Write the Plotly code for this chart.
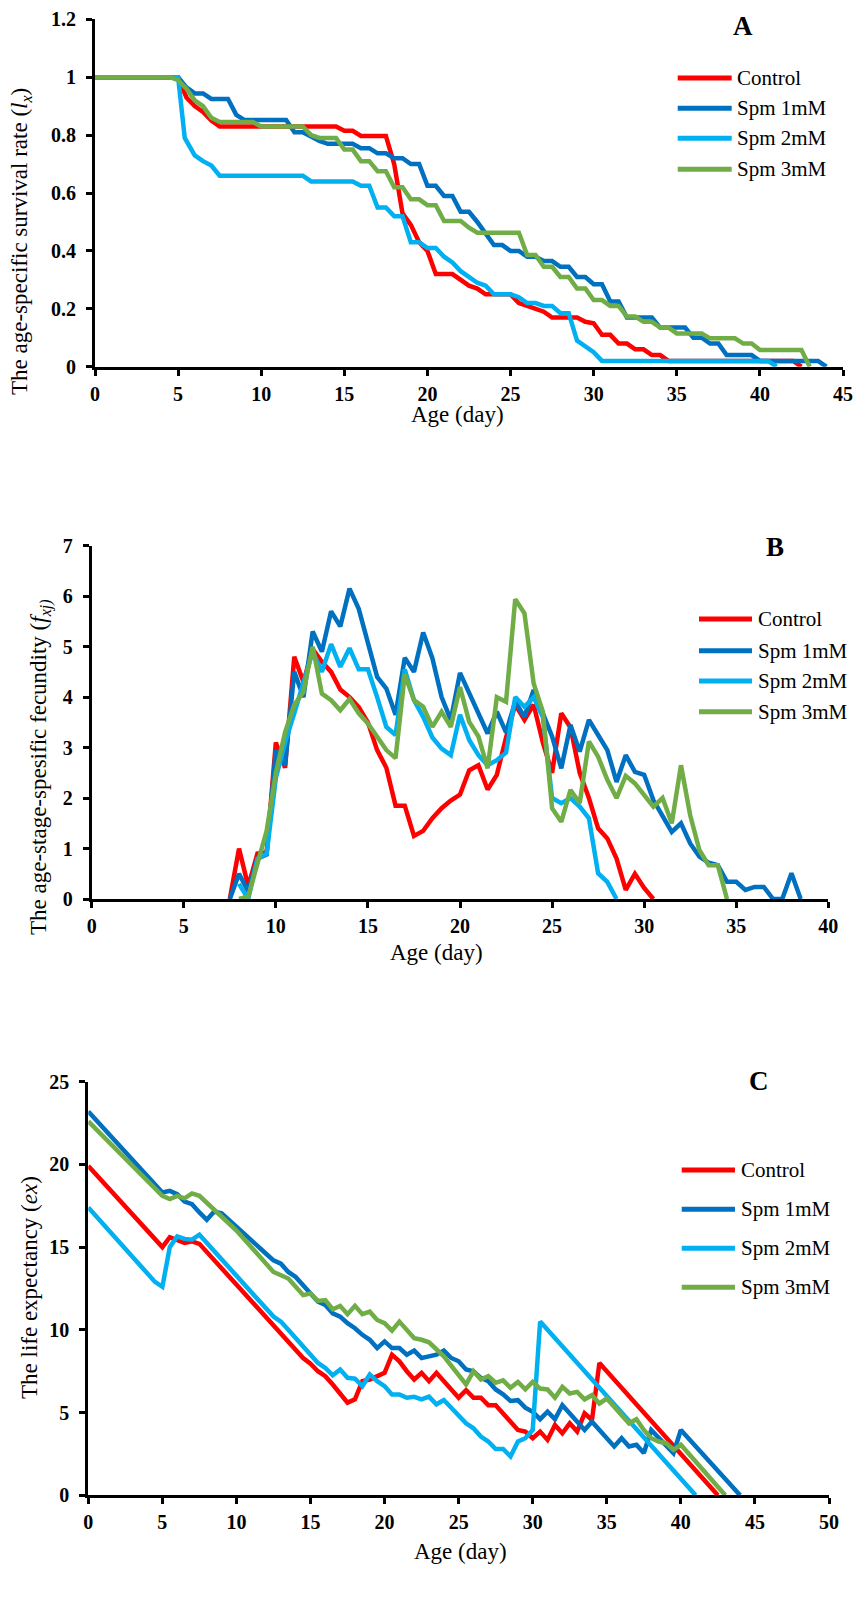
import plotly.graph_objects as go

# figure fills the 857x1598 page; the body margin is removed after plotting
PAGE_W, PAGE_H = 857, 1598
OFF = 0
W, H = PAGE_W - 2 * OFF, PAGE_H - 2 * OFF
FONT = "Liberation Serif, Times New Roman, serif"
SERIES = ["Control", "Spm 1mM", "Spm 2mM", "Spm 3mM"]
COLORS = ["#FF0000", "#0070C0", "#00B0F0", "#70AD47"]

# ---------------- Panel A: age-specific survival rate (lx) ----------------
a_ctrl_x = [0, 5, 5.5, 6, 6.5, 7, 7.5, 14.5, 15, 15.5, 16, 16.5, 17.5, 18, 18.5, 19, 19.5, 20, 20.5, 21.5,
            22, 22.5, 23, 23.5, 25, 25.5, 26, 26.5, 27, 27.5, 29, 29.5, 30, 30.5, 31, 31.5, 32, 32.5, 33,
            33.5, 34, 34.5, 42, 42.5]
a_ctrl_y = [1, 1, 0.93, 0.90, 0.88, 0.85, 0.83, 0.83, 0.815, 0.815, 0.797, 0.797, 0.797, 0.70, 0.53, 0.49,
            0.43, 0.40, 0.32, 0.32, 0.30, 0.28, 0.27, 0.25, 0.25, 0.22, 0.21, 0.20, 0.19, 0.17, 0.17, 0.155,
            0.15, 0.11, 0.11, 0.08, 0.08, 0.06, 0.06, 0.04, 0.04, 0.02, 0.02, 0]
a_spm1_x = [0, 5, 5.5, 6, 6.5, 7, 8, 8.5, 9, 11.5, 12, 12.5, 13, 13.5, 14, 15.5, 16, 16.5, 17, 17.5, 18,
            18.5, 19, 19.5, 20, 20.5, 21, 21.5, 22, 22.5, 23, 23.5, 24, 24.5, 25, 25.5, 26, 26.5, 27, 27.5,
            28, 28.5, 29, 29.5, 30, 30.5, 31, 31.5, 32, 33.5, 34, 35.5, 36, 36.5, 37, 37.5, 38, 39.5, 40,
            43.5, 44]
a_spm1_y = [1, 1, 0.965, 0.944, 0.944, 0.925, 0.925, 0.87, 0.852, 0.852, 0.81, 0.81, 0.795, 0.78, 0.77,
            0.77, 0.755, 0.755, 0.737, 0.737, 0.72, 0.72, 0.70, 0.70, 0.625, 0.625, 0.59, 0.59, 0.535,
            0.535, 0.50, 0.46, 0.42, 0.42, 0.40, 0.40, 0.38, 0.38, 0.365, 0.365, 0.345, 0.345, 0.31, 0.31,
            0.285, 0.285, 0.225, 0.225, 0.17, 0.17, 0.135, 0.135, 0.10, 0.10, 0.08, 0.08, 0.04, 0.04, 0.02,
            0.02, 0]
a_spm2_x = [0, 5, 5.4, 6, 6.5, 7, 7.5, 12.5, 13, 15.5, 16, 16.5, 17, 17.5, 18, 18.5, 19, 19.5, 20, 20.5,
            21, 21.5, 22, 22.5, 23, 23.5, 24, 25, 25.5, 26, 26.5, 27, 27.5, 28, 28.5, 29, 29.5, 30, 30.5,
            40.5, 41]
a_spm2_y = [1, 1, 0.79, 0.73, 0.71, 0.695, 0.66, 0.66, 0.64, 0.64, 0.625, 0.625, 0.55, 0.55, 0.52, 0.52,
            0.43, 0.43, 0.41, 0.41, 0.38, 0.36, 0.33, 0.31, 0.29, 0.28, 0.25, 0.25, 0.24, 0.22, 0.22, 0.21,
            0.21, 0.185, 0.185, 0.09, 0.07, 0.05, 0.02, 0.02, 0]
a_spm3_x = [0, 4.5, 5, 5.5, 6, 6.5, 7, 7.5, 9.5, 10, 12.5, 13, 13.5, 14.5, 15, 15.5, 16, 16.5, 17, 17.5,
            18, 18.5, 19, 19.5, 20, 20.5, 21, 22, 22.5, 23, 25.5, 26, 26.5, 27, 27.5, 28, 28.5, 29, 29.5,
            30, 30.5, 31, 31.5, 32, 32.5, 33, 33.5, 34, 34.5, 35, 36.5, 37, 38.5, 39, 39.5, 40, 42.5, 43]
a_spm3_y = [1, 1, 0.99, 0.96, 0.92, 0.90, 0.86, 0.845, 0.845, 0.83, 0.83, 0.80, 0.79, 0.79, 0.75, 0.75,
            0.71, 0.71, 0.675, 0.675, 0.62, 0.62, 0.578, 0.578, 0.558, 0.558, 0.503, 0.503, 0.48, 0.463,
            0.463, 0.386, 0.386, 0.345, 0.345, 0.31, 0.31, 0.27, 0.27, 0.23, 0.23, 0.21, 0.21, 0.173, 0.173,
            0.155, 0.155, 0.135, 0.135, 0.115, 0.115, 0.098, 0.098, 0.08, 0.08, 0.058, 0.058, 0]

# ---------------- Panel B: age-stage-specific fecundity (fxj) ----------------
b_ctrl_x = [7.5, 8, 8.5, 9, 9.5, 10, 10.5, 11, 11.5, 12, 12.5, 13, 13.5, 14, 14.5, 15, 15.5, 16, 16.5, 17,
            17.5, 18, 18.5, 19, 19.5, 20, 20.5, 21, 21.5, 22, 22.5, 23, 23.5, 24, 24.5, 25, 25.5, 26, 26.5,
            27, 27.5, 28, 28.5, 29, 29.5, 30, 30.5]
b_ctrl_y = [0, 1.0, 0.25, 0.9, 0.92, 3.1, 2.6, 4.8, 4.3, 4.95, 4.7, 4.5, 4.15, 4.0, 3.8, 3.5, 2.95, 2.6,
            1.85, 1.85, 1.25, 1.35, 1.6, 1.8, 1.95, 2.07, 2.55, 2.65, 2.17, 2.46, 3.2, 3.85, 3.55, 3.85, 3.1,
            2.5, 3.68, 3.4, 2.5, 2.0, 1.4, 1.2, 0.8, 0.18, 0.5, 0.22, 0]
b_spm1_x = [7.5, 8, 8.5, 9, 9.5, 10, 10.5, 11, 11.5, 12, 12.5, 13, 13.5, 14, 14.5, 15, 15.5, 16, 16.5, 17,
            17.5, 18, 18.5, 19, 19.5, 20, 20.5, 21, 21.5, 22, 22.5, 23, 23.5, 24, 24.5, 25, 25.5, 26, 26.5,
            27, 27.5, 28, 28.5, 29, 29.5, 30, 30.5, 31, 31.5, 32, 32.5, 33, 33.5, 34, 34.5, 35, 35.5, 36,
            36.5, 37, 37.5, 38, 38.5]
b_spm1_y = [0, 0.5, 0.15, 0.8, 0.88, 2.95, 2.65, 4.5, 4.0, 5.3, 4.9, 5.7, 5.4, 6.15, 5.75, 5.05, 4.4, 4.17,
            3.65, 4.78, 4.5, 5.28, 4.77, 4.0, 3.55, 4.48, 4.07, 3.68, 3.28, 3.71, 3.3, 3.91, 3.61, 4.14, 3.7,
            3.22, 2.59, 3.45, 2.92, 3.55, 3.25, 2.95, 2.32, 2.85, 2.52, 2.46, 1.96, 1.63, 1.33, 1.5, 1.1,
            0.84, 0.72, 0.67, 0.34, 0.34, 0.18, 0.24, 0.24, 0, 0, 0.51, 0]
b_spm2_x = [8, 8.5, 9, 9.5, 10, 10.5, 11, 11.5, 12, 12.5, 13, 13.5, 14, 14.5, 15, 15.5, 16, 16.5, 17, 17.5,
            18, 18.5, 19, 19.5, 20, 20.5, 21, 21.5, 22, 22.5, 23, 23.5, 24, 24.5, 25, 25.5, 26, 26.5, 27,
            27.5, 28, 28.5]
b_spm2_y = [0.3, 0, 0.8, 0.9, 2.4, 3.1, 3.68, 4.3, 4.9, 4.5, 5.05, 4.6, 4.97, 4.55, 4.55, 4.0, 3.41, 3.25,
            4.55, 3.94, 3.61, 3.2, 2.98, 2.85, 3.65, 3.15, 2.85, 2.65, 2.75, 2.9, 4.0, 3.81, 4.0, 3.6, 2.0,
            1.9, 2.0, 1.83, 1.6, 0.51, 0.34, 0]
b_spm3_x = [8, 8.5, 9, 9.5, 10, 10.5, 11, 11.5, 12, 12.5, 13, 13.5, 14, 14.5, 15, 15.5, 16, 16.5, 17, 17.5,
            18, 18.5, 19, 19.5, 20, 20.5, 21, 21.5, 22, 22.5, 23, 23.5, 24, 24.5, 25, 25.5, 26, 26.5, 27,
            27.5, 28, 28.5, 29, 29.5, 30, 30.5, 31, 31.5, 32, 32.5, 33, 33.5, 34, 34.5]
b_spm3_y = [0, 0.05, 0.7, 1.35, 2.5, 3.3, 3.85, 4.1, 5.0, 4.07, 3.94, 3.74, 3.96, 3.68, 3.48, 3.22, 2.95,
            2.79, 4.45, 3.94, 3.81, 3.41, 3.71, 3.41, 4.2, 3.51, 3.22, 2.59, 4.0, 3.91, 5.94, 5.66, 4.27,
            3.71, 1.8, 1.53, 2.16, 1.9, 3.12, 2.82, 2.36, 2.0, 2.44, 2.29, 2.06, 1.83, 2.0, 1.5, 2.65, 1.66,
            0.97, 0.67, 0.67, 0]

# ---------------- Panel C: life expectancy (ex) ----------------
c_ctrl_x = [0, 5, 5.5, 6, 6.5, 7, 7.5, 14.5, 15, 15.5, 16, 16.5, 17, 17.5, 18, 18.5, 19, 19.5, 20, 20.5, 21,
            21.5, 22, 22.5, 23, 23.5, 24, 24.5, 25, 25.5, 26, 26.5, 27, 27.5, 28, 28.5, 29, 29.5, 30, 30.5,
            31, 31.5, 32, 32.5, 33, 33.5, 34, 34.5, 42.5]
c_ctrl_y = [19.9, 15.0, 15.6, 15.4, 15.25, 15.35, 15.2, 8.3, 7.95, 7.5, 7.2, 6.7, 6.15, 5.6, 5.8, 6.9, 7.0,
            7.2, 7.4, 8.5, 8.1, 7.5, 7.0, 7.4, 6.9, 7.4, 6.9, 6.4, 5.9, 6.35, 5.9, 5.9, 5.45, 5.45, 4.95,
            4.45, 3.95, 3.85, 3.45, 3.85, 3.35, 4.25, 3.75, 4.35, 3.85, 4.95, 4.55, 8.0, 0]
c_spm1_x = [0, 5, 5.5, 6, 6.5, 7, 7.5, 8, 8.5, 9, 12, 12.5, 13, 13.5, 14, 14.5, 15, 15.5, 16, 16.5, 17, 17.5,
            18, 18.5, 19, 19.5, 20, 20.5, 21, 21.5, 22, 22.5, 23, 23.5, 24, 24.5, 25, 25.5, 26, 26.5, 27,
            27.5, 28, 28.5, 29, 29.5, 30, 30.5, 31, 31.5, 32, 32.5, 33, 33.5, 34, 34.5, 35, 35.5, 36, 36.5,
            37, 37.5, 38, 38.5, 39, 39.5, 40, 44]
c_spm1_y = [23.2, 18.3, 18.4, 18.2, 17.75, 17.6, 17.1, 16.65, 17.15, 17.05, 14.6, 14.2, 14.0, 13.5, 13.2,
            12.7, 12.2, 11.7, 11.5, 11.0, 10.8, 10.4, 10.1, 9.7, 9.4, 8.9, 9.3, 8.9, 8.9, 8.5, 8.75, 8.3, 8.4,
            8.5, 8.75, 8.3, 8.1, 7.6, 7.5, 7.1, 6.9, 6.4, 6.1, 5.7, 5.75, 5.3, 5.05, 4.6, 5.05, 4.6, 5.45,
            4.95, 4.45, 3.95, 4.45, 3.95, 3.45, 2.95, 3.45, 2.95, 3.05, 2.55, 3.95, 3.45, 3.05, 2.55, 3.95, 0]
c_spm2_x = [0, 4.5, 5, 5.5, 6, 6.5, 7, 7.5, 12.5, 13, 13.5, 14, 14.5, 15, 15.5, 16, 16.5, 17, 17.5, 18,
            18.5, 19, 19.5, 20, 20.5, 21, 21.5, 22, 22.5, 23, 23.5, 24, 25.5, 26, 26.5, 27, 27.5, 28, 28.5,
            29, 29.5, 30, 30.5, 41]
c_spm2_y = [17.4, 12.9, 12.6, 15.0, 15.65, 15.5, 15.45, 15.75, 10.8, 10.5, 10.0, 9.5, 9.0, 8.5, 8.0, 7.7,
            7.25, 7.6, 7.1, 7.05, 6.6, 7.3, 6.9, 6.6, 6.1, 6.1, 5.9, 5.95, 5.8, 5.96, 5.5, 5.76, 4.35, 4.05,
            3.55, 3.25, 2.8, 2.8, 2.35, 3.25, 3.45, 3.95, 10.5, 0]
c_spm3_x = [0, 5, 5.5, 6, 6.5, 7, 7.5, 9.5, 10, 12.5, 13, 13.5, 14, 14.5, 15, 15.5, 16, 16.5, 17, 17.5, 18,
            18.5, 19, 19.5, 20, 20.5, 21, 21.5, 22, 22.5, 23, 24, 25.5, 26, 26.5, 27, 27.5, 28, 28.5, 29,
            29.5, 30, 30.5, 31, 31.5, 32, 32.5, 33, 33.5, 34, 34.5, 35, 36.5, 37, 37.5, 38, 38.5, 39, 39.5,
            40, 43]
c_spm3_y = [22.6, 18.1, 17.9, 18.1, 17.95, 18.25, 18.1, 16.35, 16.0, 13.5, 13.3, 13.1, 12.6, 12.1, 12.2,
            11.75, 11.8, 11.25, 11.45, 10.95, 11.45, 10.95, 11.1, 10.6, 10.4, 9.95, 10.5, 10.0, 9.5, 9.4,
            9.25, 8.4, 6.7, 7.5, 7.0, 7.2, 6.8, 6.95, 6.5, 6.85, 6.4, 6.85, 6.45, 6.4, 5.9, 6.55, 6.15, 6.25,
            5.8, 6.05, 5.55, 5.85, 4.35, 4.6, 3.95, 3.45, 3.25, 3.15, 2.75, 3.05, 0]

a_xticks = [0, 5, 10, 15, 20, 25, 30, 35, 40, 45]
a_yticks = [0, 0.2, 0.4, 0.6, 0.8, 1, 1.2]
b_xticks = [0, 5, 10, 15, 20, 25, 30, 35, 40]
b_yticks = [0, 1, 2, 3, 4, 5, 6, 7]
c_xticks = [0, 5, 10, 15, 20, 25, 30, 35, 40, 45, 50]
c_yticks = [0, 5, 10, 15, 20, 25]


def px_x(p):
    return (p - OFF) / W


def px_y(p):
    return 1 - (p - OFF) / H


panels = [
    dict(name="A", box=(95, 843, 19.3, 366.7), xr=[0, 45], yr=[0, 1.2], xt=a_xticks, yt=a_yticks,
         data=[(a_ctrl_x, a_ctrl_y), (a_spm1_x, a_spm1_y), (a_spm2_x, a_spm2_y), (a_spm3_x, a_spm3_y)],
         ytitle="The age-specific survival rate (<i>l<sub>x</sub></i>)", ytpos=(21, 242),
         xtpos=(457, 415), label=(743, 26), leg=(677.7, 731.7, 735, [78, 108.3, 138.3, 169.3])),
    dict(name="B", box=(91.7, 828.3, 545.7, 899), xr=[0, 40], yr=[0, 7], xt=b_xticks, yt=b_yticks,
         data=[(b_ctrl_x, b_ctrl_y), (b_spm1_x, b_spm1_y), (b_spm2_x, b_spm2_y), (b_spm3_x, b_spm3_y)],
         ytitle="The age-stage-spesific fecundity (<i>f<sub>xj)</sub></i>", ytpos=(40, 767),
         xtpos=(436, 952), label=(775, 547), leg=(699, 752, 756, [619, 650.7, 681, 711.7])),
    dict(name="C", box=(88.3, 829, 1081.7, 1495.3), xr=[0, 50], yr=[0, 25], xt=c_xticks, yt=c_yticks,
         data=[(c_ctrl_x, c_ctrl_y), (c_spm1_x, c_spm1_y), (c_spm2_x, c_spm2_y), (c_spm3_x, c_spm3_y)],
         ytitle="The life expectancy (<i>ex</i>)", ytpos=(29, 1288),
         xtpos=(460, 1551), label=(759, 1081), leg=(681.7, 735, 739, [1170, 1209.3, 1248.3, 1287.3])),
]

fig = go.Figure()
annotations = []
shapes = []
tickfont = dict(family=FONT, size=20, color="black", weight="bold")

for i, p in enumerate(panels):
    n = "" if i == 0 else str(i + 1)
    x0, x1, y0, y1 = p["box"]
    for (xs, ys), name, col in zip(p["data"], SERIES, COLORS):
        fig.add_trace(go.Scatter(x=xs, y=ys, mode="lines", name=name, showlegend=False,
                                 line=dict(color=col, width=4.5),
                                 xaxis="x" + n, yaxis="y" + n))
    common = dict(showgrid=False, zeroline=False, showline=True, linecolor="black", linewidth=3,
                  ticks="outside", ticklen=6, tickwidth=2.5, tickcolor="black", tickfont=tickfont,
                  automargin=False, ticklabeloverflow="allow")
    fig.update_layout(**{
        "xaxis" + n: dict(domain=[px_x(x0), px_x(x1)], range=p["xr"], tickvals=p["xt"],
                          anchor="y" + n, ticklabelstandoff=1, **common),
        "yaxis" + n: dict(domain=[px_y(y1), px_y(y0)], range=p["yr"], tickvals=p["yt"],
                          anchor="x" + n, ticklabelstandoff=6, **common),
    })
    annotations.append(dict(text=p["ytitle"], textangle=-90, x=px_x(p["ytpos"][0]), y=px_y(p["ytpos"][1]),
                            xref="paper", yref="paper", xanchor="center", yanchor="middle", showarrow=False,
                            font=dict(family=FONT, size=23, color="black")))
    annotations.append(dict(text="Age (day)", x=px_x(p["xtpos"][0]), y=px_y(p["xtpos"][1]),
                            xref="paper", yref="paper", xanchor="center", yanchor="middle", showarrow=False,
                            font=dict(family=FONT, size=23, color="black")))
    annotations.append(dict(text="<b>" + p["name"] + "</b>", x=px_x(p["label"][0]), y=px_y(p["label"][1]),
                            xref="paper", yref="paper", xanchor="center", yanchor="middle", showarrow=False,
                            font=dict(family=FONT, size=27, color="black")))
    lx0, lx1, tx, lys = p["leg"]
    for name, col, ly in zip(SERIES, COLORS, lys):
        shapes.append(dict(type="line", xref="paper", yref="paper", x0=px_x(lx0), x1=px_x(lx1),
                           y0=px_y(ly), y1=px_y(ly), line=dict(color=col, width=5)))
        annotations.append(dict(text=name, x=px_x(tx), y=px_y(ly), xref="paper", yref="paper",
                                xanchor="left", yanchor="middle", showarrow=False,
                                font=dict(family=FONT, size=21, color="black")))

fig.update_layout(template="none", width=W, height=H, margin=dict(l=0, r=0, t=0, b=0, pad=0),
                  autosize=False, paper_bgcolor="white", plot_bgcolor="white",
                  annotations=annotations, shapes=shapes)

fig.write_html("out.html", config={"displayModeBar": False},
               post_script="document.body.style.margin='0';document.body.style.overflow='hidden';")
